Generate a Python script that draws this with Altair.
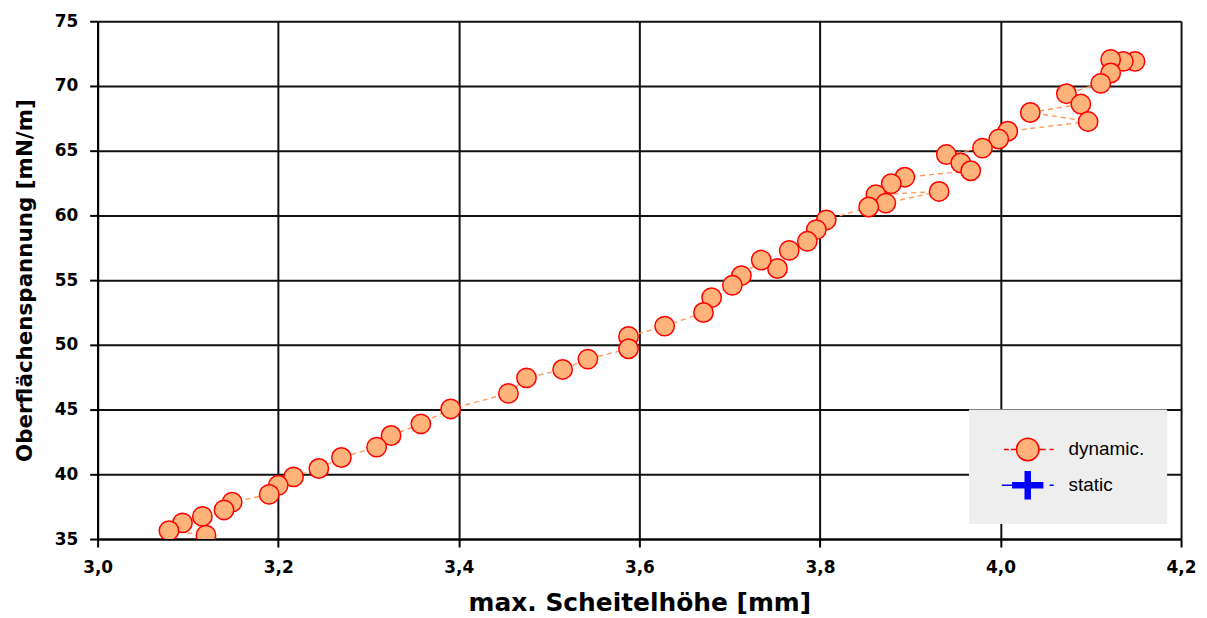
import altair as alt
import pandas as pd

x_mm = [4.149, 4.136, 4.122, 4.122, 4.111, 4.073, 4.089, 4.033, 4.097, 4.008,
        3.998, 3.980, 3.940, 3.956, 3.967, 3.894, 3.879, 3.862, 3.932, 3.873,
        3.854, 3.807, 3.796, 3.786, 3.766, 3.753, 3.735, 3.713, 3.703, 3.680,
        3.671, 3.628, 3.588, 3.588, 3.543, 3.515, 3.475, 3.455, 3.391, 3.358,
        3.325, 3.309, 3.270, 3.245, 3.217, 3.200, 3.190, 3.149, 3.140, 3.116,
        3.094, 3.079, 3.120]
y_mN = [71.9, 71.9, 72.05, 71.0, 70.2, 69.4, 68.6, 67.95, 67.25, 66.5,
        65.9, 65.2, 64.7, 64.05, 63.45, 62.95, 62.45, 61.6, 61.85, 60.95,
        60.65, 59.65, 58.9, 58.0, 57.3, 55.9, 56.55, 55.35, 54.6, 53.65,
        52.5, 51.45, 50.65, 49.7, 48.9, 48.1, 47.45, 46.25, 45.05, 43.9,
        43.0, 42.1, 41.3, 40.45, 39.8, 39.15, 38.45, 37.85, 37.25, 36.75,
        36.25, 35.65, 35.3]

series_names = ["dynamic.", "static"]
x_ticks = [3.0, 3.2, 3.4, 3.6, 3.8, 4.0, 4.2]
y_ticks = [35, 40, 45, 50, 55, 60, 65, 70, 75]

df = pd.DataFrame({
    "x": x_mm,
    "y": y_mN,
    "seq": list(range(len(x_mm))),
    "series": series_names[0],
})

# legend symbols (custom paths; column centre at 0, unit = half symbol width)
dyn_path = ("M-0.29,0H0M0.12,0H0.45"
            "M0.453,0A0.665,0.665,0,1,1,1.783,0A0.665,0.665,0,1,1,0.453,0Z"
            "M1.82,0H2.18M2.41,0H2.65")
stat_path = ("M-0.41,0H0.3"
             "M0.238,-0.147H0.971V-0.794H1.265V-0.147H1.998V0.147H1.265V0.794H0.971V0.147H0.238Z"
             "M2.41,0H2.65")

xenc = alt.X(
    "x:Q",
    scale=alt.Scale(domain=[3.0, 4.2], nice=False, zero=False),
    axis=alt.Axis(
        values=x_ticks,
        labelExpr="replace(format(datum.value, '.1f'), '.', ',')",
        title="max. Scheitelhöhe [mm]",
        titleX=544, titleY=72, titleAlign="center", titleBaseline="alphabetic",
        titleFontSize=25,
        labelPadding=13, labelFlush=False, labelOverlap=False,
    ),
)
yenc = alt.Y(
    "y:Q",
    scale=alt.Scale(domain=[35, 75], nice=False, zero=False),
    axis=alt.Axis(
        values=y_ticks,
        title="Oberflächenspannung [mN/m]",
        titleX=-72, titleY=260, titleAngle=270, titleAlign="center",
        titleBaseline="middle", titleFontSize=21.5,
        labelPadding=12, labelFlush=False, labelOverlap=False,
    ),
)

base = alt.Chart(df)

line = base.mark_line(
    color="#FF9955", strokeWidth=1.4, strokeDash=[5, 4], clip=True
).encode(x=xenc, y=yenc, order=alt.Order("seq:Q"))

points = base.mark_point(
    shape="circle", filled=True, fill="#FFB27A", stroke="#FF0000",
    strokeWidth=1.5, size=380, opacity=1, clip=True
).encode(x=xenc, y=yenc)

leg = dict(
    title=None, orient="none", legendX=875, legendY=390,
    fillColor="#EEEEEE", padding=22, symbolSize=1156, symbolStrokeWidth=1.5,
    labelFont="Liberation Sans", labelFontSize=19, labelColor="#000000",
    labelOffset=42, rowPadding=3, symbolOpacity=1,
)

legend_layer = base.transform_filter("datum.seq < 0").mark_point(
    filled=True, opacity=1
).encode(
    x=xenc, y=yenc,
    shape=alt.Shape("series:N", scale=alt.Scale(domain=series_names, range=[dyn_path, stat_path]),
                    legend=alt.Legend(**leg)),
    fill=alt.Fill("series:N", scale=alt.Scale(domain=series_names, range=["#FFB27A", "#0000FF"]),
                  legend=alt.Legend(**leg)),
    stroke=alt.Stroke("series:N", scale=alt.Scale(domain=series_names, range=["#FF0000", "#0000FF"]),
                      legend=alt.Legend(**leg)),
)

chart = alt.layer(line, points, legend_layer).properties(
    width=1088, height=520,
    autosize=alt.AutoSizeParams(type="none"),
    padding={"left": 90, "top": 12, "right": 18, "bottom": 78},
    background="white",
).configure_view(stroke=None).configure_axis(
    domainColor="#000000", domainWidth=2,
    grid=True, gridColor="#111111", gridWidth=2, gridOpacity=1,
    tickColor="#000000", tickWidth=2, tickSize=8,
    labelFont="DejaVu Sans", labelFontWeight="bold", labelFontSize=17, labelColor="#000000",
    titleFont="DejaVu Sans", titleFontWeight="bold", titleColor="#000000",
)

chart.save("out.html", embed_options={"renderer": "svg", "actions": False})
